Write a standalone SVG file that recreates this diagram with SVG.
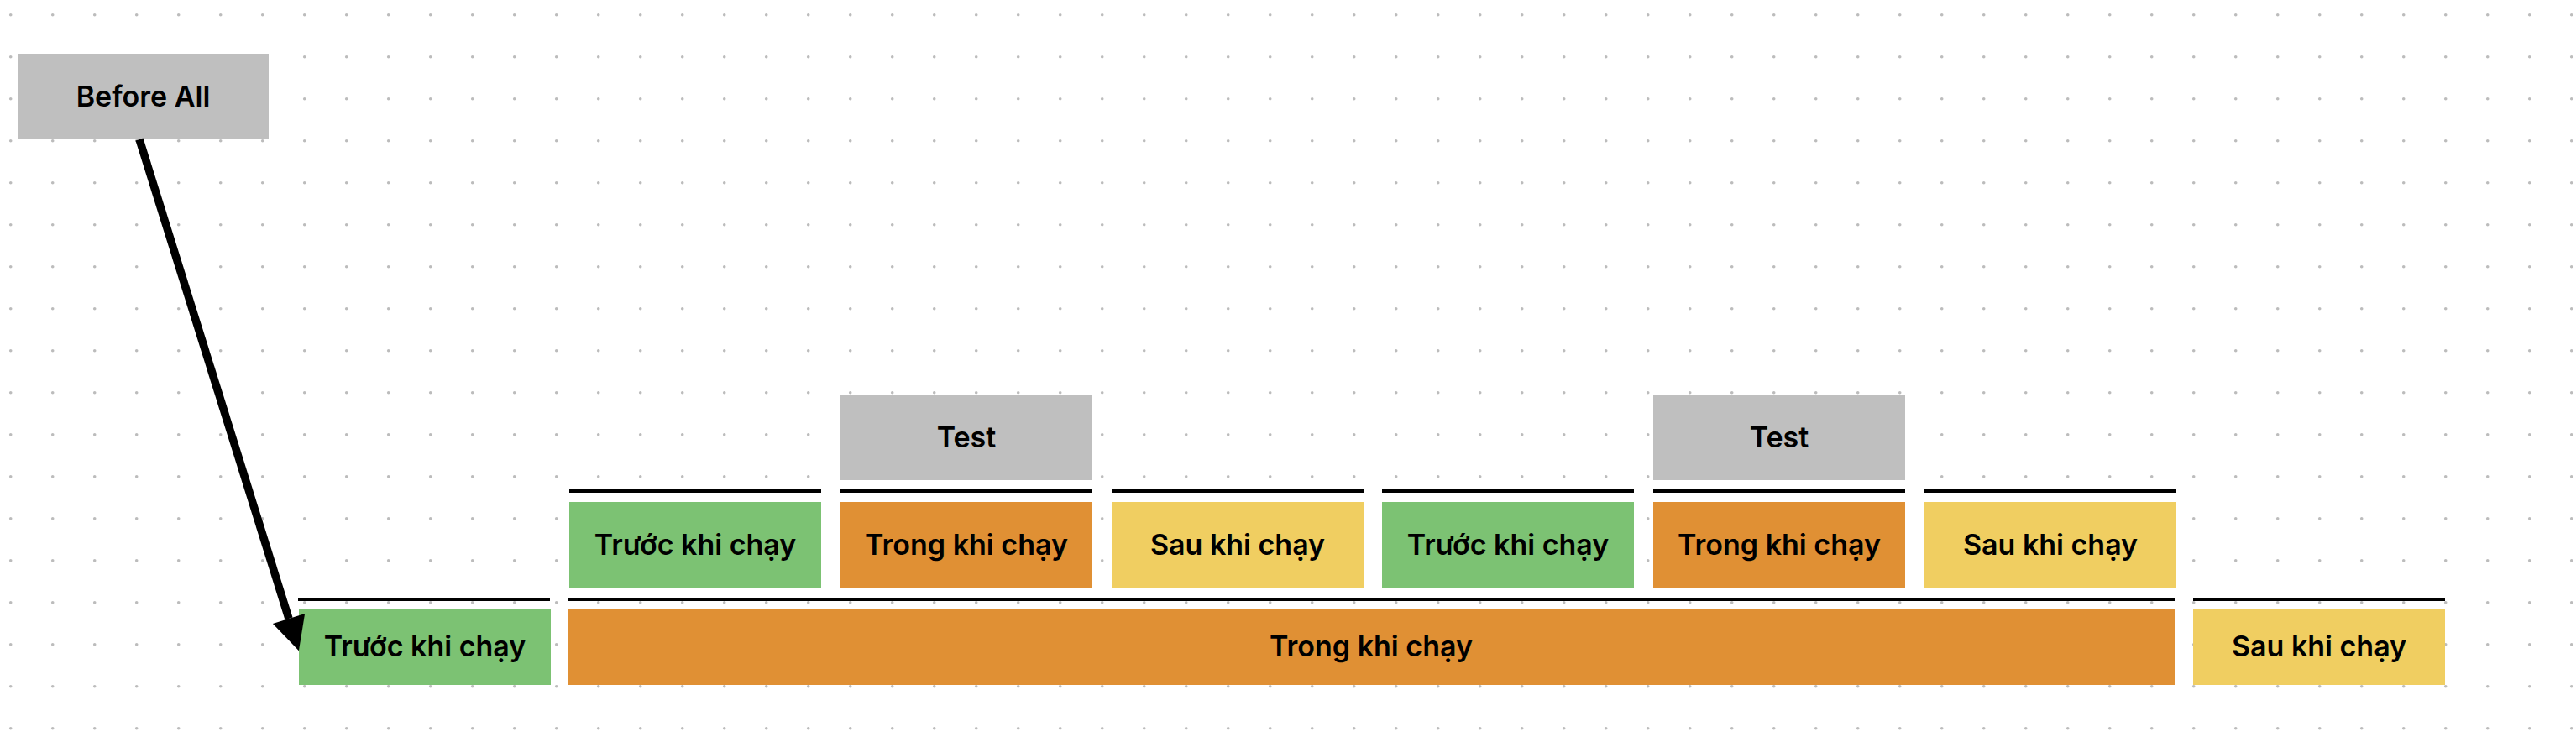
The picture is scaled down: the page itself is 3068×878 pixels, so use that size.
<svg xmlns="http://www.w3.org/2000/svg" width="3068" height="878" viewBox="0 0 3068 878">
  <defs>
    <pattern id="dots" patternUnits="userSpaceOnUse" x="0" y="0" width="50" height="50">
      <circle cx="12.7" cy="17.7" r="1.8" fill="#bcbcbc"/>
    </pattern>
    <marker id="head" markerUnits="userSpaceOnUse" markerWidth="42" markerHeight="44" refX="0" refY="21" orient="auto" viewBox="0 0 42 44" overflow="visible">
      <path d="M0,1 L40,21 L0,41 Z" fill="#000"/>
    </marker>
  </defs>
  <style>
    .gray { fill: #bfbfbf; }
    .green { fill: #7cc273; }
    .orange { fill: #e09034; }
    .yellow { fill: #f0ce61; }
    .bar { stroke: #000; stroke-width: 4; fill: none; }
    .lbl { font-family: Inter, "Liberation Sans", sans-serif; font-weight: 600; font-size: 34px; fill: #000; text-anchor: middle; }
    .conn { stroke: #000; stroke-width: 9.5; fill: none; }
  </style>
  <rect x="0" y="0" width="3068" height="878" fill="#ffffff"/>
  <rect x="0" y="0" width="3068" height="878" fill="url(#dots)"/>

  <g id="bars">
    <line class="bar" x1="678" y1="585" x2="978" y2="585"/>
    <line class="bar" x1="1001" y1="585" x2="1301" y2="585"/>
    <line class="bar" x1="1324" y1="585" x2="1624" y2="585"/>
    <line class="bar" x1="1646" y1="585" x2="1946" y2="585"/>
    <line class="bar" x1="1969" y1="585" x2="2269" y2="585"/>
    <line class="bar" x1="2292" y1="585" x2="2592" y2="585"/>
    <line class="bar" x1="355" y1="714" x2="655" y2="714"/>
    <line class="bar" x1="677" y1="714" x2="2590" y2="714"/>
    <line class="bar" x1="2612" y1="714" x2="2912" y2="714"/>
  </g>

  <g id="before-all">
    <rect class="gray" x="21" y="64" width="299" height="101"/>
    <text class="lbl" x="170.5" y="127">Before All</text>
  </g>

  <g id="test-1">
    <rect class="gray" x="1001" y="470" width="300" height="102"/>
    <text class="lbl" x="1151" y="533">Test</text>
  </g>
  <g id="test-2">
    <rect class="gray" x="1969" y="470" width="300" height="102"/>
    <text class="lbl" x="2119" y="533">Test</text>
  </g>

  <g id="r2-truoc-1">
    <rect class="green" x="678" y="598" width="300" height="102"/>
    <text class="lbl" x="828" y="661">Trước khi chạy</text>
  </g>
  <g id="r2-trong-1">
    <rect class="orange" x="1001" y="598" width="300" height="102"/>
    <text class="lbl" x="1151" y="661">Trong khi chạy</text>
  </g>
  <g id="r2-sau-1">
    <rect class="yellow" x="1324" y="598" width="300" height="102"/>
    <text class="lbl" x="1474" y="661">Sau khi chạy</text>
  </g>
  <g id="r2-truoc-2">
    <rect class="green" x="1646" y="598" width="300" height="102"/>
    <text class="lbl" x="1796" y="661">Trước khi chạy</text>
  </g>
  <g id="r2-trong-2">
    <rect class="orange" x="1969" y="598" width="300" height="102"/>
    <text class="lbl" x="2119" y="661">Trong khi chạy</text>
  </g>
  <g id="r2-sau-2">
    <rect class="yellow" x="2292" y="598" width="300" height="102"/>
    <text class="lbl" x="2442" y="661">Sau khi chạy</text>
  </g>

  <g id="r1-truoc">
    <rect class="green" x="356" y="725" width="300" height="91"/>
    <text class="lbl" x="506" y="782">Trước khi chạy</text>
  </g>
  <g id="r1-trong">
    <rect class="orange" x="677" y="725" width="1913" height="91"/>
    <text class="lbl" x="1633" y="782">Trong khi chạy</text>
  </g>
  <g id="r1-sau">
    <rect class="yellow" x="2612" y="725" width="300" height="91"/>
    <text class="lbl" x="2762" y="782">Sau khi chạy</text>
  </g>

  <g id="connectors">
    <line class="conn" x1="166" y1="166" x2="344" y2="737" marker-end="url(#head)"/>
  </g>
</svg>
